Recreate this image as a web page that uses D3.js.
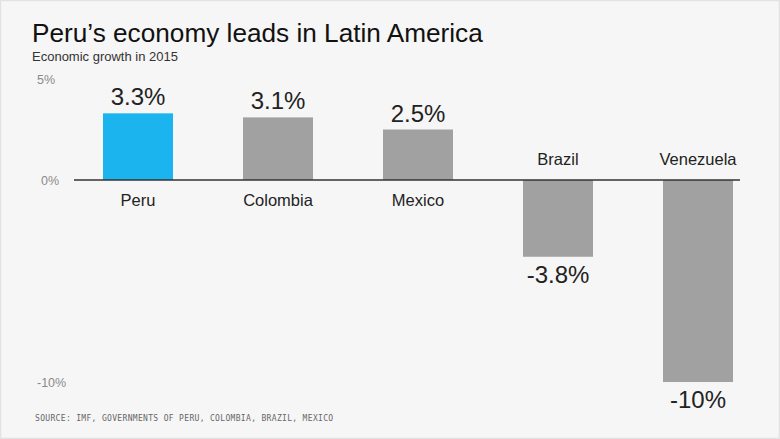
<!DOCTYPE html>
<html><head><meta charset="utf-8">
<script src="https://cdn.jsdelivr.net/npm/d3@7"></script>
<style>body{margin:0;background:#f6f6f6}svg{display:block}</style>
</head><body>
<svg id="c" width="780" height="439"></svg>
<script>
const categories = ["Peru","Colombia","Mexico","Brazil","Venezuela"];
const values = [3.3, 3.1, 2.5, -3.8, -10];
const valueLabels = ["3.3%","3.1%","2.5%","-3.8%","-10%"];
const tickValues = [5, 0, -10];
const tickLabels = ["5%","0%","-10%"];
const highlight = "Peru";

const svg = d3.select("#c");
const W = 780, H = 439;
svg.append("rect").attr("x",0.5).attr("y",0.5).attr("width",W-1).attr("height",H-1)
  .attr("fill","#f6f6f6").attr("stroke","#e2e2e2").attr("stroke-width",1.5);

const font = "'Liberation Sans', Arial, Helvetica, sans-serif";

const title = svg.append("text").attr("x",32).attr("y",42).attr("font-family",font).attr("font-size",24)
  .attr("fill","#111").text("Peru’s economy leads in Latin America");
const tw = title.node().getComputedTextLength();
title.attr("font-size", 24 * 451 / tw);
const sub = svg.append("text").attr("x",32).attr("y",61).attr("font-family",font).attr("font-size",12.5)
  .attr("fill","#333").text("Economic growth in 2015");
const sw = sub.node().getComputedTextLength();
sub.attr("font-size", 12.5 * 146 / sw);

const x = d3.scaleBand().domain(categories).range([68,768]).paddingInner(0.5).paddingOuter(0.25);
const y = d3.scaleLinear().domain([5,-10]).range([79,382]);

// y tick labels
svg.append("g").selectAll("text").data(tickValues).join("text")
  .attr("x",(d,i)=> i===1 ? 41 : 37)
  .attr("y",d=>y(d)+4.5)
  .attr("font-family",font).attr("font-size",12.5).attr("fill","#8a8a8a")
  .text((d,i)=>tickLabels[i]);

// bars
svg.append("g").selectAll("rect").data(categories).join("rect")
  .attr("x",d=>x(d))
  .attr("width",x.bandwidth())
  .attr("y",(d,i)=>y(Math.max(0,values[i])))
  .attr("height",(d,i)=>Math.abs(y(values[i])-y(0)))
  .attr("fill",d=>d===highlight ? "#1cb4ee" : "#a1a1a1");

// zero line
svg.append("line").attr("x1",74).attr("x2",740).attr("y1",y(0)).attr("y2",y(0))
  .attr("stroke","#333").attr("stroke-width",1.5);

// value labels
svg.append("g").selectAll("text").data(categories).join("text")
  .attr("x",d=>x(d)+x.bandwidth()/2)
  .attr("y",(d,i)=> values[i]>=0 ? y(values[i])-8 : y(values[i])+26)
  .attr("text-anchor","middle").attr("font-family",font).attr("font-size",24)
  .attr("fill","#222").text((d,i)=>valueLabels[i]);

// category labels
svg.append("g").selectAll("text").data(categories).join("text")
  .attr("x",d=>x(d)+x.bandwidth()/2)
  .attr("y",(d,i)=> values[i]>=0 ? y(0)+26 : y(0)-15)
  .attr("text-anchor","middle").attr("font-family",font).attr("font-size",16.5)
  .attr("fill","#222").text(d=>d);

// source
svg.append("text").attr("x",35).attr("y",421).attr("font-family","'DejaVu Sans Mono', monospace")
  .attr("font-size",8).attr("letter-spacing",0.33).attr("fill","#666")
  .text("SOURCE: IMF, GOVERNMENTS OF PERU, COLOMBIA, BRAZIL, MEXICO");
</script>
</body></html>
